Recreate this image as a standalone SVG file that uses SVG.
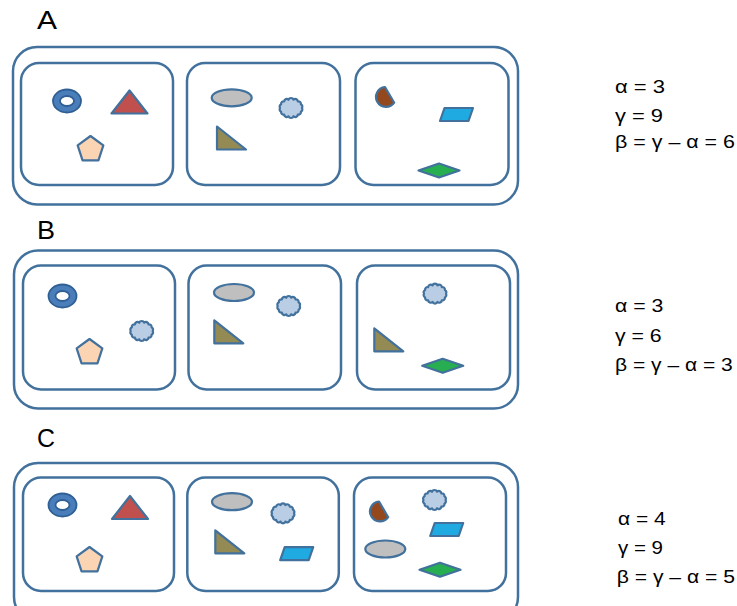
<svg xmlns="http://www.w3.org/2000/svg" width="737" height="606" viewBox="0 0 737 606">
<style>
.box{fill:none;stroke:#41719C;stroke-width:2.5}
.sh{stroke:#41719C;stroke-width:2.2;stroke-linejoin:round}
.lbl{font-family:"Liberation Sans",Arial,sans-serif;font-size:26px;fill:#000}
.eq{font-family:"Liberation Sans",Arial,sans-serif;font-size:17.5px;fill:#000}
</style>
<defs>
<path id="torus" d="M-14,0a14,11.5 0 1,0 28,0a14,11.5 0 1,0 -28,0ZM-7,0a7,5 0 1,0 14,0a7,5 0 1,0 -14,0Z" fill="#4A7EBB" fill-rule="evenodd" stroke="#2F5F93" stroke-width="1.8"/>
<polygon id="tri" class="sh" points="0,-11.5 18,11.5 -18,11.5" fill="#C0504D"/>
<polygon id="pent" class="sh" points="0,-13.5 12.84,-4.17 7.94,10.92 -7.94,10.92 -12.84,-4.17" fill="#FBD4B4"/>
<ellipse id="oval" class="sh" rx="20" ry="8.5" fill="#BFBFBF"/>
<polygon id="rtri" class="sh" points="0,0 0,-23 29,0" fill="#948A54"/>
<polygon id="para" class="sh" points="-12,-6.5 16.5,-6.5 12,6.5 -16.5,6.5" fill="#1FAAE2"/>
<polygon id="dia" class="sh" points="-20.5,0 0,-7 20.5,0 0,7" fill="#27AE50"/>
<path id="pie" class="sh" d="M-1,-10A10,10 0 1 0 8.2,5.7Z" fill="#94481E"/>
<path id="cloud" class="sh" fill="#B9CDE5" d="M11,0A2.6,2.6 0 0 1 9.91,3.69A2.6,2.6 0 0 1 6.85,6.65A2.6,2.6 0 0 1 2.45,8.29A2.6,2.6 0 0 1 -2.45,8.29A2.6,2.6 0 0 1 -6.85,6.65A2.6,2.6 0 0 1 -9.91,3.69A2.6,2.6 0 0 1 -11,0A2.6,2.6 0 0 1 -9.91,-3.69A2.6,2.6 0 0 1 -6.85,-6.65A2.6,2.6 0 0 1 -2.45,-8.29A2.6,2.6 0 0 1 2.45,-8.29A2.6,2.6 0 0 1 6.85,-6.65A2.6,2.6 0 0 1 9.91,-3.69A2.6,2.6 0 0 1 11,0Z"/>
</defs>
<g id="connectors"/>
<g id="panelA">
<text class="lbl" x="37" y="29" textLength="20" lengthAdjust="spacingAndGlyphs">A</text>
<rect class="box" x="13" y="47" width="505" height="157.5" rx="24"/>
<g id="A1">
<rect class="box" x="21" y="63" width="152" height="122" rx="18"/>
<use href="#torus" x="67" y="101"/>
<use href="#tri" x="129.5" y="102"/>
<use href="#pent" x="90.5" y="149.5"/>
</g>
<g id="A2">
<rect class="box" x="187" y="63" width="153" height="122" rx="18"/>
<use href="#oval" x="231.7" y="97.8"/>
<use href="#cloud" x="291" y="108"/>
<use href="#rtri" x="217" y="149.5"/>
</g>
<g id="A3">
<rect class="box" x="355.5" y="63" width="153" height="122" rx="18"/>
<use href="#pie" x="386" y="97"/>
<use href="#para" x="456.5" y="114.5"/>
<use href="#dia" x="439" y="170.5"/>
</g>
<g id="A-eq">
<text class="eq" x="615" y="93" textLength="50" lengthAdjust="spacingAndGlyphs">α = 3</text>
<text class="eq" x="615" y="122" textLength="48" lengthAdjust="spacingAndGlyphs">γ = 9</text>
<text class="eq" x="615" y="148" textLength="120" lengthAdjust="spacingAndGlyphs">β = γ – α = 6</text>
</g>
</g>
<g id="panelB">
<text class="lbl" x="37" y="239" textLength="18" lengthAdjust="spacingAndGlyphs">B</text>
<rect class="box" x="14" y="250.5" width="504" height="158" rx="24"/>
<g id="B1">
<rect class="box" x="23" y="265.5" width="152" height="124" rx="18"/>
<use href="#torus" x="62.5" y="296"/>
<use href="#pent" x="89.5" y="352.5"/>
<use href="#cloud" x="141.7" y="331"/>
</g>
<g id="B2">
<rect class="box" x="188.5" y="265.5" width="152.5" height="124" rx="18"/>
<use href="#oval" x="234" y="292.5"/>
<use href="#cloud" x="288.7" y="306"/>
<use href="#rtri" x="214.3" y="343.3"/>
</g>
<g id="B3">
<rect class="box" x="357" y="265.5" width="153" height="124" rx="18"/>
<use href="#cloud" x="435" y="293.7"/>
<use href="#rtri" x="374.3" y="351.3"/>
<use href="#dia" x="442.7" y="365.8"/>
</g>
<g id="B-eq">
<text class="eq" x="615" y="312" textLength="48.3" lengthAdjust="spacingAndGlyphs">α = 3</text>
<text class="eq" x="615" y="342" textLength="46.7" lengthAdjust="spacingAndGlyphs">γ = 6</text>
<text class="eq" x="615" y="371" textLength="117.7" lengthAdjust="spacingAndGlyphs">β = γ – α = 3</text>
</g>
</g>
<g id="panelC">
<text class="lbl" x="37" y="447" textLength="18" lengthAdjust="spacingAndGlyphs">C</text>
<rect class="box" x="14" y="463" width="504" height="158" rx="24"/>
<g id="C1">
<rect class="box" x="23" y="477.5" width="151" height="113.5" rx="18"/>
<use href="#torus" x="62.5" y="505"/>
<use href="#tri" x="130" y="507.5"/>
<use href="#pent" x="89.5" y="560.5"/>
</g>
<g id="C2">
<rect class="box" x="187.3" y="477.5" width="151.5" height="113.5" rx="18"/>
<use href="#oval" x="232" y="501.7"/>
<use href="#cloud" x="283" y="513.3"/>
<use href="#rtri" x="215.3" y="553.3"/>
<use href="#para" x="296.7" y="553.7"/>
</g>
<g id="C3">
<rect class="box" x="354" y="477.5" width="152" height="113.5" rx="18"/>
<use href="#pie" x="380" y="511.5"/>
<use href="#cloud" x="434.5" y="500"/>
<use href="#para" x="446.7" y="529.5"/>
<use href="#oval" x="385.3" y="549"/>
<use href="#dia" x="440" y="569.8"/>
</g>
<g id="C-eq">
<text class="eq" x="618" y="525" textLength="47.7" lengthAdjust="spacingAndGlyphs">α = 4</text>
<text class="eq" x="618" y="554" textLength="45" lengthAdjust="spacingAndGlyphs">γ = 9</text>
<text class="eq" x="616.7" y="583" textLength="118.3" lengthAdjust="spacingAndGlyphs">β = γ – α = 5</text>
</g>
</g>
</svg>
